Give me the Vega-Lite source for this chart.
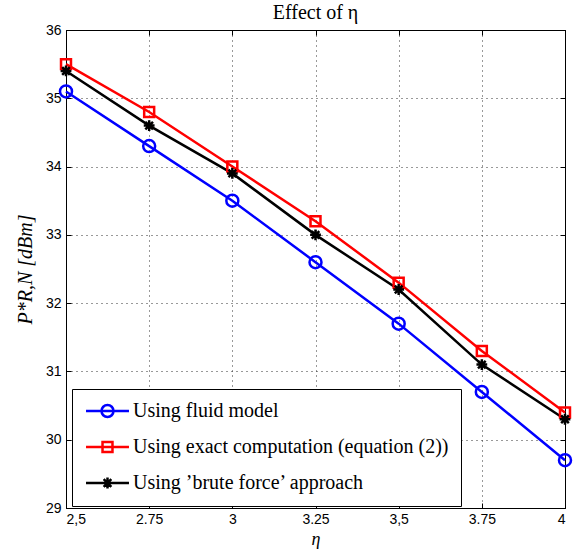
{
  "$schema": "https://vega.github.io/schema/vega-lite/v6.json",
  "width": 499,
  "height": 478,
  "autosize": "none",
  "padding": {"left": 66, "top": 30, "right": 14, "bottom": 43},
  "title": {"text": "Effect of η", "font": "Liberation Serif", "fontSize": 20, "fontWeight": "normal", "color": "black", "offset": 0},
  "config": {
    "view": {"stroke": "black", "strokeWidth": 1},
    "axis": {"domainColor": "black", "tickColor": "black", "labelColor": "black", "titleColor": "black"}
  },
  "data": {
    "values": [
      {"eta": 2.5, "method": "Using fluid model", "p": 35.1},
      {"eta": 2.75, "method": "Using fluid model", "p": 34.3},
      {"eta": 3.0, "method": "Using fluid model", "p": 33.5},
      {"eta": 3.25, "method": "Using fluid model", "p": 32.6},
      {"eta": 3.5, "method": "Using fluid model", "p": 31.7},
      {"eta": 3.75, "method": "Using fluid model", "p": 30.7},
      {"eta": 4.0, "method": "Using fluid model", "p": 29.7},
      {"eta": 2.5, "method": "Using exact computation (equation (2))", "p": 35.5},
      {"eta": 2.75, "method": "Using exact computation (equation (2))", "p": 34.8},
      {"eta": 3.0, "method": "Using exact computation (equation (2))", "p": 34.0},
      {"eta": 3.25, "method": "Using exact computation (equation (2))", "p": 33.2},
      {"eta": 3.5, "method": "Using exact computation (equation (2))", "p": 32.3},
      {"eta": 3.75, "method": "Using exact computation (equation (2))", "p": 31.3},
      {"eta": 4.0, "method": "Using exact computation (equation (2))", "p": 30.4},
      {"eta": 2.5, "method": "Using ’brute force’ approach", "p": 35.4},
      {"eta": 2.75, "method": "Using ’brute force’ approach", "p": 34.6},
      {"eta": 3.0, "method": "Using ’brute force’ approach", "p": 33.9},
      {"eta": 3.25, "method": "Using ’brute force’ approach", "p": 33.0},
      {"eta": 3.5, "method": "Using ’brute force’ approach", "p": 32.2},
      {"eta": 3.75, "method": "Using ’brute force’ approach", "p": 31.1},
      {"eta": 4.0, "method": "Using ’brute force’ approach", "p": 30.3}
    ]
  },
  "layer": [
    {
      "mark": {"type": "line", "strokeWidth": 2.5},
      "encoding": {
        "x": {
          "field": "eta", "type": "quantitative",
          "scale": {"domain": [2.5, 4], "nice": false, "zero": false},
          "axis": {
            "orient": "bottom",
            "values": [2.5, 2.75, 3, 3.25, 3.5, 3.75, 4],
            "labelExpr": "datum.value == 2.5 ? '2,5' : datum.value == 3.5 ? '3,5' : format(datum.value, '~g')",
            "grid": true, "gridColor": "#333", "gridDash": [1, 4], "gridWidth": 1,
            "tickSize": -5, "labelPadding": 9,
            "labelFont": "Liberation Sans", "labelFontSize": 14,
            "title": "η", "titleFont": "Liberation Serif", "titleFontStyle": "italic", "titleFontWeight": "normal", "titleFontSize": 18, "titlePadding": 4
          }
        },
        "y": {
          "field": "p", "type": "quantitative",
          "scale": {"domain": [29, 36], "nice": false, "zero": false},
          "axis": {
            "orient": "left",
            "values": [29, 30, 31, 32, 33, 34, 35, 36],
            "grid": true, "gridColor": "#333", "gridDash": [1, 4], "gridWidth": 1,
            "tickSize": -5, "labelPadding": 10,
            "labelFont": "Liberation Sans", "labelFontSize": 14,
            "title": "P*R,N  [dBm]", "titleFont": "Liberation Serif", "titleFontStyle": "italic", "titleFontWeight": "normal", "titleFontSize": 20, "titlePadding": 10
          }
        },
        "color": {
          "field": "method", "type": "nominal",
          "scale": {
            "domain": ["Using fluid model", "Using exact computation (equation (2))", "Using ’brute force’ approach"],
            "range": ["#0000ff", "#ff0000", "#000000"]
          },
          "legend": {
            "orient": "none", "legendX": 6, "legendY": 359,
            "title": null, "padding": 12,
            "strokeColor": "black", "fillColor": "white",
            "labelFont": "Liberation Serif", "labelFontSize": 20, "labelColor": "black", "labelLimit": 600,
            "symbolSize": 144, "symbolStrokeWidth": 2.5, "rowPadding": 15, "labelOffset": 29,
            "encode": {
              "symbols": {
                "update": {
                  "shape": {"signal": "datum.value == 'Using fluid model' ? 'M-1.33,0H5.83M3.25,0A1,1,0,1,1,1.25,0A1,1,0,1,1,3.25,0' : datum.value == 'Using exact computation (equation (2))' ? 'M-1.33,0H5.83M1.42,-0.83H3.08V0.83H1.42Z' : 'M-1.33,0H5.83M2.25,-0.9V0.9M1.35,0H3.15M1.61,-0.64L2.89,0.64M1.61,0.64L2.89,-0.64'"},
                  "fill": {"value": "transparent"},
                  "strokeWidth": {"value": 2.5},
                  "opacity": {"value": 1}
                }
              }
            }
          }
        }
      }
    },
    {
      "mark": {"type": "point", "filled": false, "strokeWidth": 2.5, "size": 144, "opacity": 1},
      "encoding": {
        "x": {
          "field": "eta", "type": "quantitative",
          "axis": {"orient": "top", "values": [2.5, 2.75, 3, 3.25, 3.5, 3.75, 4], "labels": false, "grid": false, "tickSize": -5, "title": null}
        },
        "y": {
          "field": "p", "type": "quantitative",
          "axis": {"orient": "right", "values": [29, 30, 31, 32, 33, 34, 35, 36], "labels": false, "grid": false, "tickSize": -5, "title": null}
        },
        "color": {
          "field": "method", "type": "nominal",
          "scale": {
            "domain": ["Using fluid model", "Using exact computation (equation (2))", "Using ’brute force’ approach"],
            "range": ["#0000ff", "#ff0000", "#000000"]
          },
          "legend": null
        },
        "shape": {
          "field": "method", "type": "nominal",
          "scale": {
            "domain": ["Using fluid model", "Using exact computation (equation (2))", "Using ’brute force’ approach"],
            "range": ["M1,0A1,1,0,1,1,-1,0A1,1,0,1,1,1,0Z", "M-0.83,-0.83H0.83V0.83H-0.83Z", "M0,-0.9V0.9M-0.9,0H0.9M-0.64,-0.64L0.64,0.64M-0.64,0.64L0.64,-0.64"]
          },
          "legend": null
        }
      }
    }
  ],
  "resolve": {"axis": {"x": "independent", "y": "independent"}, "scale": {"color": "independent"}}
}
